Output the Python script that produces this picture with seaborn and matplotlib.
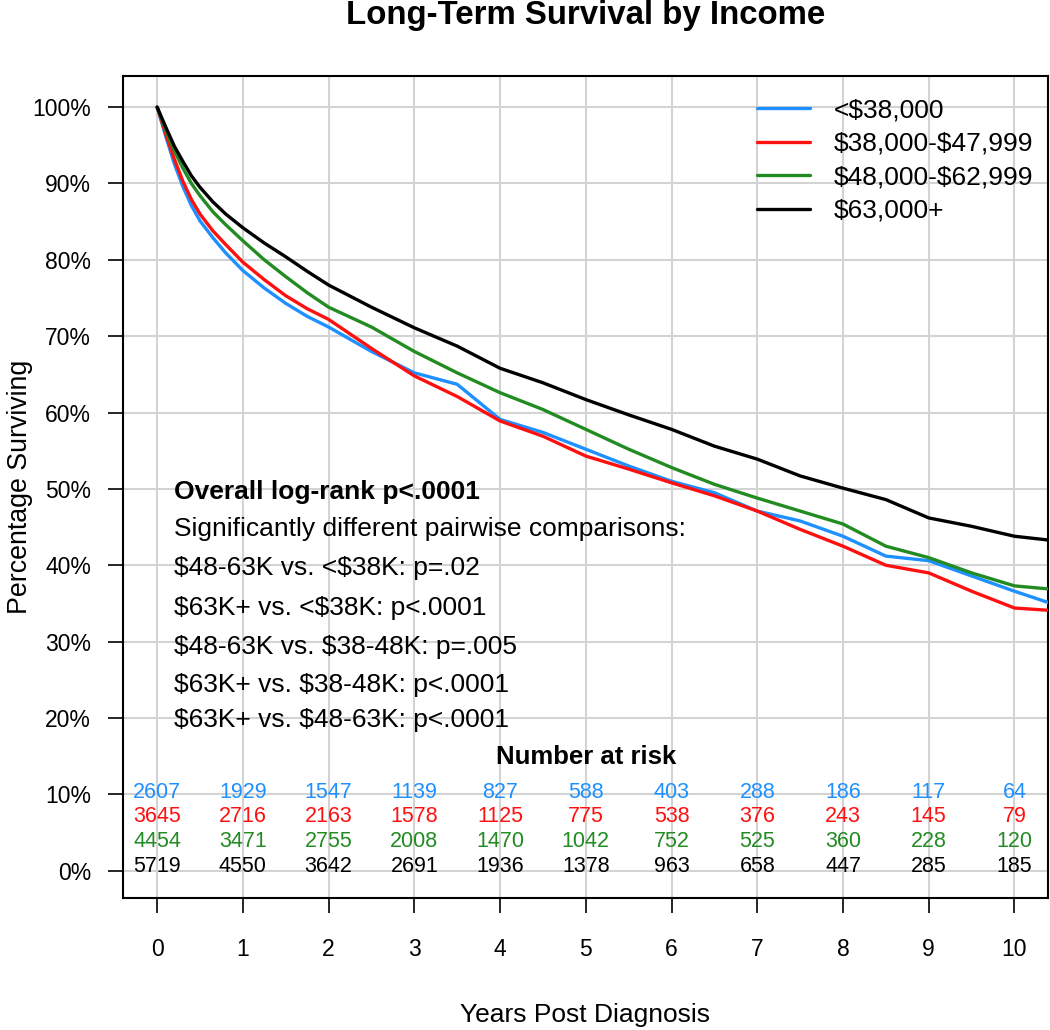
import matplotlib
matplotlib.use("Agg")
import matplotlib.pyplot as plt
import seaborn as sns
import pandas as pd

# Kaplan-Meier curves (percent surviving)
years = [0, 0.1, 0.2, 0.3, 0.4, 0.5, 0.65, 0.8, 1, 1.25, 1.5, 1.75, 2, 2.5, 3, 3.5, 4, 4.5,
         5, 5.5, 6, 6.5, 7, 7.5, 8, 8.5, 9, 9.5, 10, 10.4]
surv_lt38 = [100, 96.2, 92.6, 89.6, 87.1, 85.1, 82.9, 80.9, 78.6, 76.3, 74.3, 72.6, 71.2, 68.0, 65.2,
             63.7, 59.1, 57.4, 55.2, 53.0, 51.0, 49.5, 47.1, 45.8, 43.8, 41.2, 40.6, 38.6, 36.6, 35.1]
surv_38_48 = [100, 96.5, 93.2, 90.3, 87.9, 86.0, 83.8, 82.0, 79.7, 77.4, 75.3, 73.6, 72.2, 68.4, 64.8,
              62.1, 58.9, 56.9, 54.3, 52.6, 50.8, 49.1, 47.1, 44.7, 42.5, 40.0, 39.0, 36.6, 34.4, 34.1]
surv_48_63 = [100, 97.0, 94.3, 92.0, 90.0, 88.4, 86.3, 84.6, 82.5, 80.0, 77.8, 75.7, 73.8, 71.2, 68.0,
              65.2, 62.6, 60.4, 57.8, 55.2, 52.8, 50.6, 48.8, 47.1, 45.4, 42.5, 41.0, 39.0, 37.3, 36.9]
surv_63 = [100, 97.4, 94.9, 92.9, 91.0, 89.5, 87.6, 86.0, 84.2, 82.2, 80.4, 78.5, 76.7, 73.8, 71.1,
           68.7, 65.8, 63.9, 61.7, 59.7, 57.8, 55.6, 53.9, 51.7, 50.1, 48.6, 46.2, 45.1, 43.8, 43.3]

groups = ["<$38,000", "$38,000-$47,999", "$48,000-$62,999", "$63,000+"]
colors = ["#1E90FF", "#FF1010", "#228B22", "#000000"]

# number at risk table
risk_years = [0, 1, 2, 3, 4, 5, 6, 7, 8, 9, 10]
risk_lt38 = [2607, 1929, 1547, 1139, 827, 588, 403, 288, 186, 117, 64]
risk_38_48 = [3645, 2716, 2163, 1578, 1125, 775, 538, 376, 243, 145, 79]
risk_48_63 = [4454, 3471, 2755, 2008, 1470, 1042, 752, 525, 360, 228, 120]
risk_63 = [5719, 4550, 3642, 2691, 1936, 1378, 963, 658, 447, 285, 185]

notes = ["Overall log-rank p<.0001",
         "Significantly different pairwise comparisons:",
         "$48-63K vs. <$38K: p=.02",
         "$63K+ vs. <$38K: p<.0001",
         "$48-63K vs. $38-48K: p=.005",
         "$63K+ vs. $38-48K: p<.0001",
         "$63K+ vs. $48-63K: p<.0001"]

sns.set_style("whitegrid")
plt.rcParams['font.family'] = ['Liberation Sans', 'DejaVu Sans']
plt.rcParams['text.parse_math'] = False
plt.rcParams['text.color'] = 'black'
plt.rcParams['xtick.color'] = 'black'
plt.rcParams['ytick.color'] = 'black'

fig = plt.figure(figsize=(10.5, 10.3), dpi=100)
ax = fig.add_axes([0.117, 0.128, 0.881, 0.798])

curves = [surv_lt38, surv_38_48, surv_48_63, surv_63]
for g, c, s in zip(groups, colors, curves):
    df = pd.DataFrame({"years": years, "surviving": s})
    sns.lineplot(data=df, x="years", y="surviving", color=c, linewidth=2.4,
                 label=g, ax=ax, zorder=3)

ax.set_xlim(-0.4, 10.39)
ax.set_ylim(-3.6, 104.05)
ax.set_xticks(range(0, 11))
ax.set_yticks(range(0, 101, 10))
ax.set_yticklabels([f"{v}%" for v in range(0, 101, 10)])
ax.set_xlabel("")
ax.set_ylabel("")
ax.grid(True, color="#d3d3d3", linewidth=1.5)
ax.set_axisbelow(True)
for sp in ax.spines.values():
    sp.set_color("black")
    sp.set_linewidth(1.5)
ax.tick_params(axis="both", which="both", length=11, width=1.2, color="black",
               labelsize=16.5, labelcolor="black")
ax.tick_params(axis="x", pad=18, bottom=True)
ax.tick_params(axis="y", pad=12, left=True)

leg = ax.legend(loc="upper left", bbox_to_anchor=(0.686, 0.973), frameon=False,
                fontsize=19, handlelength=2.0, handletextpad=0.9, labelspacing=0.36,
                borderpad=0, borderaxespad=0)
for line in leg.get_lines():
    line.set_linewidth(2.4)
for t in leg.get_texts():
    t.set_color("black")

# p-value notes
note_y = [49.6, 44.7, 39.6, 34.4, 29.3, 24.3, 19.7]
for i, (txt, y) in enumerate(zip(notes, note_y)):
    ax.text(0.2, y, txt, ha="left", va="center", fontsize=19,
            fontweight="bold" if i == 0 else "normal")

# number at risk
ax.text(5.0, 14.9, "Number at risk", ha="center", va="center", fontsize=18.5, fontweight="bold")
row_y = [10.3, 7.05, 3.8, 0.5]
for counts, c, y in zip([risk_lt38, risk_38_48, risk_48_63, risk_63], colors, row_y):
    for x, n in zip(risk_years, counts):
        ax.text(x, y, str(n), color=c, ha="center", va="center", fontsize=15.5)

fig.text(0.5576, 0.985, "Long-Term Survival by Income", ha="center", va="center",
         fontsize=23.8, fontweight="bold")
fig.text(0.5576, 0.0146, "Years Post Diagnosis", ha="center", va="center", fontsize=19)
fig.text(0.019, 0.527, "Percentage Surviving", ha="center", va="center", fontsize=19.3,
         rotation=90)

fig.savefig("out.png", dpi=100)
